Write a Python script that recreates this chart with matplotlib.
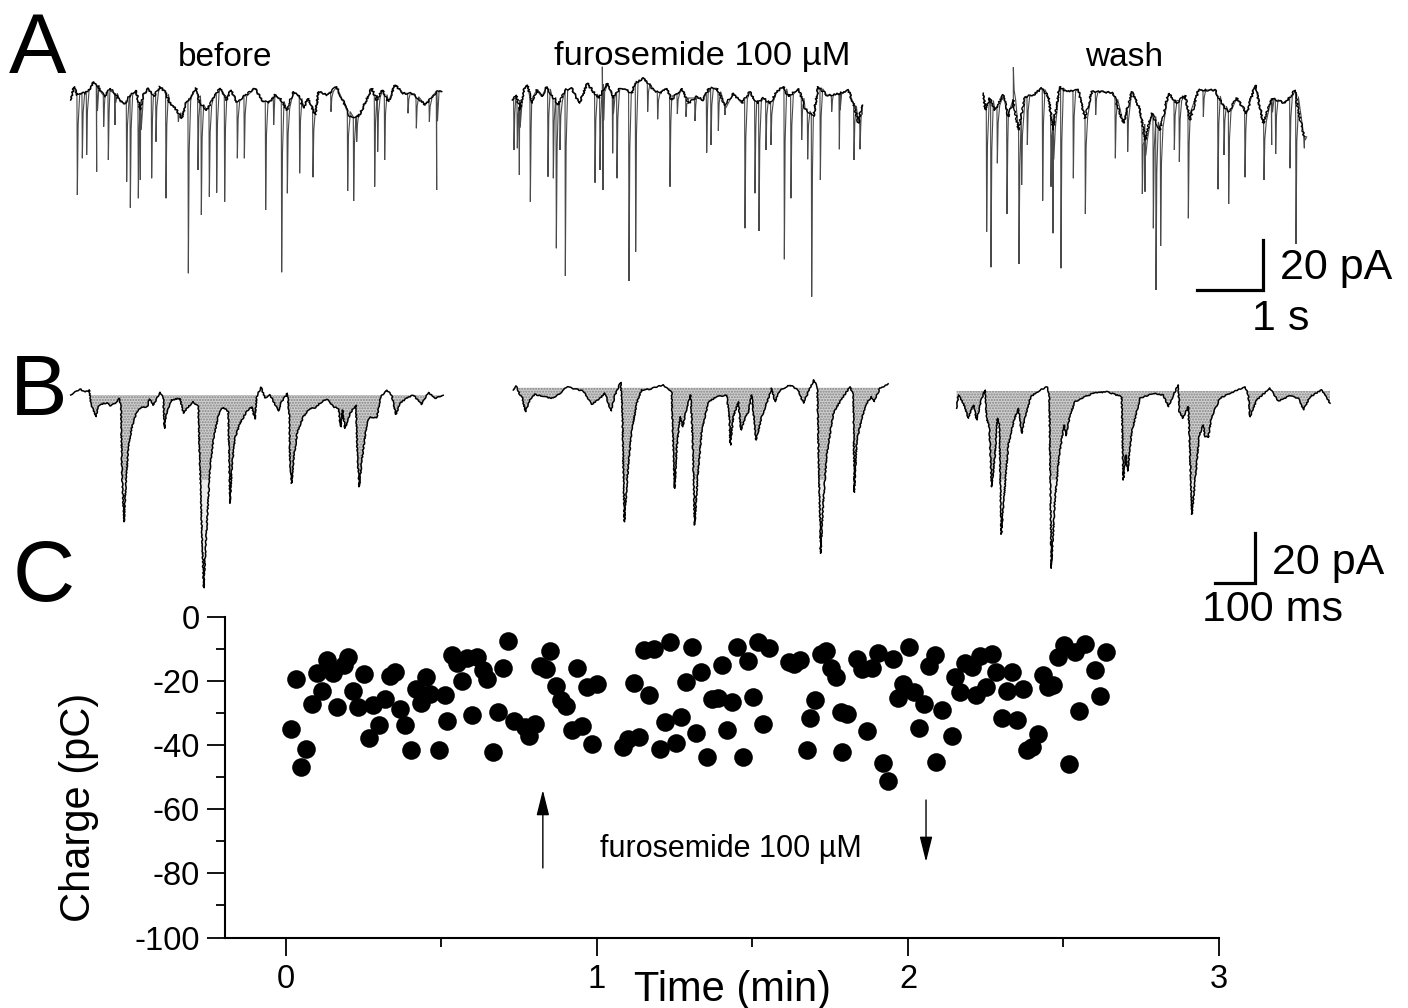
import numpy as np
import matplotlib
matplotlib.use('Agg')
import matplotlib.pyplot as plt
from matplotlib.ticker import MultipleLocator

plt.rcParams['font.family'] = ['Liberation Sans', 'DejaVu Sans']
plt.rcParams['axes.unicode_minus'] = False

# panel A: slow baseline of each trace (s, pA)
a1_base_t = [.16,.21,.25,.31,.375,.45,.50,.55,.61,.675,.75,.825,.90,.975,1.05,1.14,1.20,1.25,1.325,1.40,1.50,1.575,1.65,1.75,1.825,1.89,1.975,2.04,2.10,2.20,2.30,2.40,2.50,2.56,2.65,2.75,2.925,3.025,3.125,3.225,3.30,3.40,3.50,3.575,3.65,3.725,3.825,3.875,4.00,4.15,4.25,4.35,4.475,4.575,4.675,4.75,4.835,4.925,5.025,5.15,5.275,5.375,5.475,5.575,5.65,5.725]
a1_base_i = [-16,-10.7,-14,-13.3,-13.3,-11.3,-8.7,-10,-12.7,-14.7,-11.3,-13.3,-16.7,-17.3,-14,-12,-20,-14,-11.3,-14.7,-10.7,-12.7,-17.3,-20,-23.3,-17.3,-14.7,-11.3,-17.3,-20,-15.3,-11.3,-16,-12,-16.7,-14.7,-11.3,-16,-17.3,-14,-15.3,-20,-12.7,-14,-19.3,-15.3,-22,-12.7,-14,-10.7,-16.7,-22.7,-22.7,-17.3,-11.3,-16,-12,-16.7,-10,-13.3,-13.3,-15.3,-18,-14.7,-12.7,-12.7]
a1_spike_t = [.26,.335,.40,.55,.655,.725,.825,1.00,1.055,1.175,1.205,1.375,1.44,1.59,1.775,1.925,2.07,2.12,2.24,2.35,2.47,2.66,2.765,3.085,3.205,3.325,3.41,3.595,3.795,4.065,4.315,4.405,4.45,4.72,4.765,4.87,5.22,5.345,5.54,5.65]
a1_spike_i = [-54,-39.3,-38,-44.7,-26.7,-40,-26,-48.7,-59.1,-55.3,-48,-47.3,-32.7,-55.3,-24.7,-85.3,-44,-62,-54.7,-53.1,-56.7,-39.3,-39.3,-60,-26,-84.9,-53.3,-45.3,-46.9,-20.7,-52.4,-56.4,-32.7,-50.7,-36.7,-40,-21.3,-27.3,-24.7,-52]

a2_base_t = [.185,.24,.30,.36,.41,.475,.55,.625,.70,.775,.875,.975,1.075,1.19,1.31,1.40,1.475,1.61,1.70,1.80,1.90,1.975,2.025,2.15,2.30,2.40,2.50,2.575,2.725,2.825,2.95,3.05,3.125,3.25,3.375,3.50,3.625,3.75,3.85,3.95,4.05,4.15,4.25,4.325,4.475,4.575,4.70,4.775,4.90,5.00,5.10,5.225,5.30,5.375,5.425]
a2_base_i = [-16,-14,-20,-11.3,-10,-17.3,-12,-14.7,-10.7,-14,-18,-12,-11.3,-17.3,-9.3,-12.7,-15.3,-9.3,-15.3,-11.3,-12,-13.3,-9.3,-7.3,-12,-13.3,-11.3,-16,-11.3,-17.3,-14.7,-16,-11.3,-11.3,-18,-13.3,-17.3,-12.7,-17.3,-15.3,-17.3,-12.7,-10.7,-14.7,-11.3,-19.3,-22.7,-10.7,-14,-14,-13.3,-12,-17.3,-25.3,-18]
a2_spike_t = [.21,.26,.29,.455,.72,.80,.845,.90,.98,1.425,1.50,1.535,1.545,1.69,1.755,1.935,2.035,2.215,2.365,2.55,2.66,2.79,2.925,3.10,3.165,3.275,3.375,3.675,3.825,3.885,3.99,4.065,4.265,4.365,4.525,4.615,4.675,4.805,4.975,5.09,5.31,5.40]
a2_spike_i = [-36,-35.3,-46,-56.7,-46.7,-47.3,-75.3,-36,-86.4,-49.1,-44,-2.7,-52,-37.3,-47.3,-88.4,-76.7,-20.7,-23.7,-50.7,-21.6,-22.7,-24.4,-37.1,-34,-28.3,-22,-67.3,-53.3,-68.4,-36,-34,-79.7,-55.3,-32,-39.7,-94.7,-48,-20.7,-35.7,-40,-35.7]

a3_base_t = [.20,.23,.30,.375,.50,.575,.65,.725,.825,.95,1.075,1.175,1.25,1.34,1.45,1.625,1.725,1.825,2.00,2.15,2.30,2.425,2.55,2.625,2.725,2.85,2.975,3.10,3.225,3.30,3.425,3.675,3.775,3.875,4.00,4.15,4.275,4.40,4.525,4.725,4.875,4.925,5.015]
a3_base_i = [-13.3,-20,-15.3,-20,-14,-22.7,-16,-28,-14.7,-14,-11.3,-14.7,-28,-10.7,-12.7,-12,-23.3,-12.7,-12.7,-13.3,-25.3,-12.7,-20,-32,-21.3,-28,-13.3,-17.3,-14,-24,-12,-12,-17.3,-20.7,-15.3,-21.3,-10,-25.3,-15.3,-17.3,-12,-20.7,-30.7]
a3_spike_t = [.25,.315,.41,.555,.65,.735,.775,.86,1.09,1.215,1.245,1.365,1.55,1.73,1.885,2.18,2.365,2.585,2.625,2.75,2.79,2.86,3.065,3.14,3.275,3.50,3.72,3.81,3.88,4.125,4.41,4.525,4.585,4.80,4.89,5.015]
a3_spike_i = [-68.7,-82.9,-41.3,-61.6,-2.9,-81.6,-50,-34,-56.3,-50.7,-69.3,-83.3,-47.3,-61.6,-22,-39.3,-36.7,-53.6,-52.7,-67.3,-92,-74.4,-36,-40.7,-63.3,-22.7,-51.7,-38,-57.6,-46.9,-48,-34,-37.6,-43.3,-73.6,-35.3]

# panel B: fast traces (ms, pA)
b1_t = [26.7,37.5,50,62.5,73.3,76.7,83.3,89.2,95.8,108.3,118.3,125,137.5,148.3,152.5,155,160,165,170.8,179.2,191.7,204.2,218.3,223.3,233.3,250,258.3,260.8,266.7,279.2,300,308.3,320.8,333.3,345.8,350,359.2,366.7,375,385,398.3,408.3,420.8,425,430,437.5,450,466.7,479.2,487.5,491.7,502.5,512.5,525,533.3,545.8,554.2,568.3,573.3,575,579.2,583.3,593.3,608.3,625,637.5,650,666.7,683.3,695.8,701.7,706.7,712.5,725,740,743.3,748.3,754.2,766.7,775,791.7,801.7,816.7,829.2,833.3,840,850,866.7,883.3,904.2,920.8,937.5,958.3]
b1_i = [-8,-6.9,-5.6,-6.9,-6,-11.3,-14,-16.7,-12.7,-11.3,-11.3,-12.4,-11.3,-9.3,-13.3,-40,-58.7,-42.7,-29.3,-21.3,-14.7,-12.9,-12.7,-9.6,-12,-6.9,-8.7,-21.3,-15.3,-10,-9.3,-15.3,-12.7,-10.7,-12.7,-38,-85.1,-61.3,-37.3,-24,-14.7,-12.9,-14.7,-51.3,-36,-25.3,-19.3,-14.7,-12.7,-17.6,-8.7,-4.9,-9.1,-8,-10.4,-14.4,-10.7,-7.3,-16,-34.7,-43.3,-34.7,-22.7,-16.7,-13.3,-13.3,-11.3,-9.6,-12.7,-13.3,-20.7,-14,-21.3,-15.3,-12,-32,-44.7,-34.7,-20,-16.7,-17.3,-8.7,-6,-8,-11.3,-15.7,-11.3,-9.3,-8,-11.7,-6.9,-9.3,-8.3]
b2_t = [33.3,40,50,55.8,63.3,75,87.5,108.3,133.3,150,166.7,187.5,208.3,229.2,250,262.5,277.5,287.5,301.7,305.8,310.8,320.8,329.2,341.7,354.2,375,408.3,429.2,433.3,436.7,441.7,450,456.7,466.7,476.7,481.7,486.7,493.3,504.2,520.8,541.7,566.7,573.3,575.8,583.3,595.8,602.5,610.8,620.8,629.2,640,654.2,666.7,679.2,687.5,700,725,745.8,758.3,770.8,785,793.3,795.8,801.7,808.3,816.7,833.3,850,875,883.3,885.8,891.7,904.2,916.7,929.2,935,950,970.8]
b2_i = [-6,-4.4,-8,-9.3,-14.7,-10,-7.7,-8.7,-9.3,-7.3,-4.7,-5.6,-6.4,-11.7,-9.3,-7.3,-14.4,-8,-2.9,-13.3,-58.7,-36,-22.7,-11.3,-6,-5.6,-4,-6.7,-30.7,-45.3,-29.3,-16.7,-20.7,-13.3,-8,-26.7,-60,-42.7,-22.7,-10.7,-8.7,-8,-17.3,-28,-16.7,-10.7,-22,-18,-14.7,-8,-26,-16.7,-11.3,-5.3,-10.7,-6,-4,-6,-11.3,-6.7,-2,-5.3,-26.7,-71.3,-50.7,-32,-15.3,-10.7,-4.7,-8,-46.9,-26.7,-17.3,-11.3,-8.7,-10.7,-5.3,-3.7]
b3_t = [41.7,45.8,58.3,70.8,83.3,91.7,101.7,112.5,116.7,123.3,129.2,137.5,143.3,148.3,153.3,162.5,170.8,185,195.8,204.2,212.5,226.7,250,268.3,273.3,278.3,287.5,298.3,310,315,325,337.5,354.2,383.3,416.7,454.2,458.3,464.2,469.2,479.2,500,533.3,558.3,570.8,583.3,595.8,598.3,606.7,620.8,626.7,630,637.5,648.3,658.3,662.5,670.8,679.2,700,725,762.5,770.8,775,791.7,825,845.8,875,895.8,908.3,925,954.2,975]
b3_i = [-13.3,-8,-11.3,-17.3,-12,-18,-10.7,-6,-17.3,-21.1,-44.7,-32,-17.3,-20,-63.7,-44,-28,-18,-13.3,-23.3,-17.3,-8.7,-6,-4.7,-8,-77.3,-49.3,-32,-20,-24.3,-16,-10.7,-9.3,-7.3,-6.7,-8.7,-42,-32,-38.4,-22.7,-9.3,-7.3,-8,-12.7,-8,-4,-14.7,-17.3,-12.7,-40,-55.7,-42.7,-24,-20,-24.7,-24.9,-16.7,-9.3,-7.3,-4.7,-8,-16.7,-10,-5.3,-10.4,-8.3,-9.3,-14,-8.7,-6,-11.3]
b1_level, b2_level, b3_level = -8.0, -5.1, -6.4

# panel C: charge vs time
time_min = [.031,.015,.066,.049,.083,.117,.099,.133,.150,.187,.200,.165,.216,.250,.233,.281,.317,.334,.350,.300,.266,.367,.384,.401,.491,.417,.449,.433,.463,.510,.517,.533,.549,.583,.615,.567,.634,.648,.699,.715,.599,.682,.666,.733,.801,.769,.783,.850,.817,.835,.867,.883,.900,.935,.968,1.001,.919,.953,.985,1.085,1.101,1.135,1.119,1.167,1.151,1.183,1.235,1.285,1.219,1.269,1.203,1.253,
            1.304,1.334,1.320,1.353,1.401,1.451,1.484,1.518,1.552,1.369,1.390,1.435,1.502,1.418,1.535,1.469,1.619,1.635,1.653,1.719,1.736,1.751,1.769,1.702,1.685,1.674,1.788,1.785,1.803,1.869,1.919,1.936,1.835,1.851,1.885,1.903,1.953,2.002,2.087,2.069,1.985,1.969,2.019,2.052,2.110,2.035,2.142,2.091,2.152,2.183,2.205,2.231,2.269,2.283,2.333,2.251,2.167,2.219,2.317,2.369,2.301,2.352,2.435,2.451,2.467,2.419,2.398,2.384,2.518,2.551,2.618,2.483,2.502,2.537,2.569,2.602,2.636]
charge_pc = [-19.3,-34.8,-41.2,-46.7,-27.2,-23.1,-17.6,-13.4,-17.4,-15,-12.4,-28,-23,-17.8,-28.2,-27.6,-25.7,-18.4,-17.1,-33.7,-37.9,-28.7,-33.8,-41.6,-41.6,-22.5,-18.6,-26.9,-24,-24.2,-32.4,-11.9,-14.5,-12.9,-12.4,-20.1,-16.5,-19.3,-16,-7.5,-30.5,-29.7,-42.1,-32.3,-33.4,-34.2,-37.1,-10.6,-15.3,-16.3,-21.4,-25.9,-27.8,-15.9,-21.7,-21,-35.3,-33.9,-39.5,-40.5,-38.2,-37.3,-20.7,-24.4,-10.3,-10.1,-7.9,-20.2,-32.7,-31.1,-41.2,-39.4,
             -9.3,-17.3,-36.3,-43.7,-15,-9.3,-13.6,-7.7,-9.8,-25.7,-25.4,-26.6,-24.9,-35.3,-33.4,-43.8,-13.9,-14.8,-13.4,-11.5,-10.5,-16,-18.6,-25.9,-31.6,-41.6,-42.2,-29.5,-30.3,-35.6,-45.5,-51.2,-13.2,-16.3,-16,-11.3,-13.1,-9.3,-11.9,-15.3,-21,-25.4,-23.5,-27.1,-29,-34.5,-37.1,-45.2,-18.8,-14.5,-15.5,-12.3,-11.5,-17.3,-17.3,-21.7,-23.3,-24.3,-23.1,-22.5,-31.4,-32,-18.1,-21.7,-21.2,-36.6,-40.5,-41.5,-46,-29.4,-24.6,-12.6,-8.7,-10.8,-8.4,-16.5,-10.9]

W, H = 1408, 1008
fig = plt.figure(figsize=(W / 100, H / 100), dpi=100, facecolor='white')


def px_axes(x, y, w, h):
    # axes placed by pixel box, y measured from the top of the picture
    return fig.add_axes([x / W, 1 - (y + h) / H, w / W, h / H])


def trace_axes(x, y, w, h, px_per_x):
    ax = px_axes(x, y, w, h)
    ax.set_xlim(0, w / px_per_x)
    ax.set_ylim(-h / 2.5, 0)  # 20 pA is 50 pixels in both panels
    ax.axis('off')
    return ax


def spiky(base_t, base_i, spike_t, spike_i):
    pts = list(zip(base_t, base_i))
    for t, i in zip(spike_t, spike_i):
        b = np.interp(t, base_t, base_i)
        pts += [(t - .006, b), (t, i), (t + .012, b + (i - b) * .3), (t + .035, b)]
    pts.sort()
    return zip(*pts)


# panel A
a_boxes = [(60, a1_base_t, a1_base_i, a1_spike_t, a1_spike_i),
           (500, a2_base_t, a2_base_i, a2_spike_t, a2_spike_i),
           (970, a3_base_t, a3_base_i, a3_spike_t, a3_spike_i)]
a_axes = []
for x0, bt, bi, st, si in a_boxes:
    ax = trace_axes(x0, 60, 400, 250, 66.67)
    tt, ii = spiky(bt, bi, st, si)
    ax.plot(tt, ii, color='#4a4a4a', lw=.8, solid_joinstyle='miter')
    line, = ax.plot(bt, bi, color='black', lw=1.0)
    line.set_sketch_params(scale=1.0, length=4, randomness=6)
    a_axes.append(ax)

# panel B
b_boxes = [(60, b1_t, b1_i, b1_level), (500, b2_t, b2_i, b2_level), (940, b3_t, b3_i, b3_level)]
b_axes = []
for x0, tt, ii, level in b_boxes:
    ax = trace_axes(x0, 375, 420, 225, .4)
    tt = np.array(tt)
    ii = np.array(ii)
    ax.fill_between(tt, ii, level, where=ii < level, interpolate=True,
                    facecolor='#cfcfcf', edgecolor='#858585', hatch='......', lw=0)
    ax.fill_between(tt, ii, -42, where=ii < -42, interpolate=True, facecolor='#ececec', lw=0)
    line, = ax.plot(tt, ii, color='black', lw=1.1)
    line.set_sketch_params(scale=.5, length=6, randomness=4)
    b_axes.append(ax)

# scale bars
a_axes[2].plot([3.405, 4.395, 4.395], [-92, -92, -72], color='black', lw=2.3,
               solid_joinstyle='miter', clip_on=False)
b_axes[2].plot([687.5, 787.5, 787.5], [-83.2, -83.2, -63.2], color='black', lw=2.3,
               solid_joinstyle='miter', clip_on=False)

# panel C
ax = px_axes(225, 617, 994, 320.5)
ax.set_xlim(-.196, 3)
ax.set_ylim(-100, 0)
ax.patch.set_alpha(0)
ax.plot(time_min, charge_pc, 'o', color='black', ms=13.4, mew=0, clip_on=False)
for s in ['top', 'right']:
    ax.spines[s].set_visible(False)
for s in ['left', 'bottom']:
    ax.spines[s].set_linewidth(1.5)
ax.set_xticks([0, 1, 2, 3])
ax.set_yticks([0, -20, -40, -60, -80, -100])
ax.xaxis.set_minor_locator(MultipleLocator(.5))
ax.yaxis.set_minor_locator(MultipleLocator(10))
ax.tick_params(which='major', length=13, width=1.3, labelsize=23.5)
ax.tick_params(which='minor', length=6.5, width=1.3)
ax.tick_params(axis='x', which='major', pad=6)
ax.tick_params(axis='y', which='major', pad=5)
ax.set_xlabel('Time (min)', fontsize=30)
ax.xaxis.set_label_coords(.511, -.10)
ax.set_ylabel('Charge (pC)', fontsize=30)
ax.yaxis.set_label_coords(-.127, .405)

ax.annotate('', xy=(.826, -54), xytext=(.826, -78.3),
            arrowprops=dict(arrowstyle='-|>,head_length=1.2,head_width=.3', color='black', lw=1,
                            mutation_scale=13, shrinkA=0, shrinkB=0))
ax.annotate('', xy=(2.058, -76.4), xytext=(2.058, -57.1),
            arrowprops=dict(arrowstyle='-|>,head_length=1.2,head_width=.3', color='black', lw=1,
                            mutation_scale=13, shrinkA=0, shrinkB=0))
ax.text(1.431, -72.5, 'furosemide 100 \u00b5M', fontsize=22, ha='center', va='center')


def label(x, y, s, size):
    fig.text(x / W, 1 - y / H, s, fontsize=size, ha='center', va='center')


label(38, 51, 'A', 62)
label(39, 393, 'B', 62)
label(44, 579, 'C', 62)
label(225, 57, 'before', 24)
label(702, 57, 'furosemide 100 \u00b5M', 24.8)
label(1124, 57, 'wash', 24)
label(1336, 268, '20 pA', 31)
label(1281, 319, '1 s', 31)
label(1328, 563, '20 pA', 31)
label(1272, 610, '100 ms', 31)

fig.savefig('out.png', dpi=100)
